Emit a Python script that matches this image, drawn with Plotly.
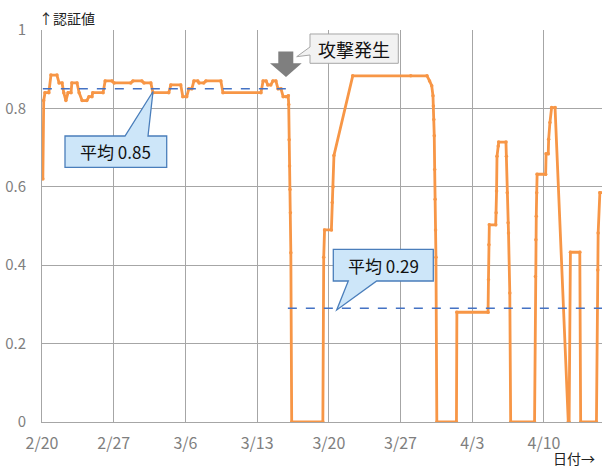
import plotly.graph_objects as go

# 認証値の時系列 (日時, 値)
times = [
    "2019-02-20 02:00", "2019-02-20 04:00", "2019-02-20 07:00", "2019-02-20 16:00",
    "2019-02-20 21:00", "2019-02-21 11:00", "2019-02-21 16:00", "2019-02-21 23:00",
    "2019-02-22 03:00", "2019-02-22 08:00", "2019-02-22 13:00", "2019-02-22 20:00",
    "2019-02-22 22:00", "2019-02-23 10:00", "2019-02-23 15:00", "2019-02-23 22:00",
    "2019-02-24 09:00", "2019-02-24 14:00", "2019-02-24 21:00", "2019-02-24 23:00",
    "2019-02-25 23:00", "2019-02-26 04:00", "2019-02-26 20:00", "2019-02-27 01:00",
    "2019-02-28 16:00", "2019-02-28 21:00", "2019-03-01 18:00", "2019-03-01 23:00",
    "2019-03-02 15:00", "2019-03-02 20:00", "2019-03-04 09:00", "2019-03-04 14:00",
    "2019-03-05 13:00", "2019-03-05 18:00", "2019-03-06 03:00", "2019-03-06 08:00",
    "2019-03-06 15:00", "2019-03-06 20:00", "2019-03-07 05:00", "2019-03-07 08:00",
    "2019-03-07 19:00", "2019-03-08 00:00", "2019-03-09 11:00", "2019-03-09 16:00",
    "2019-03-13 09:00", "2019-03-13 14:00", "2019-03-13 21:00", "2019-03-14 01:00",
    "2019-03-14 08:00", "2019-03-14 13:00", "2019-03-14 20:00", "2019-03-15 01:00",
    "2019-03-15 08:00", "2019-03-15 13:00", "2019-03-15 20:00",
    "2019-03-16 01:00", "2019-03-16 02:00", "2019-03-16 03:00", "2019-03-16 04:00",
    "2019-03-16 05:00", "2019-03-16 06:00", "2019-03-16 07:00", "2019-03-16 09:00",
    "2019-03-19 10:00", "2019-03-19 12:00", "2019-03-19 14:00", "2019-03-20 06:00",
    "2019-03-20 08:00", "2019-03-20 10:00", "2019-03-20 12:00", "2019-03-22 08:00",
    "2019-03-28 00:00", "2019-03-29 14:00", "2019-03-29 20:00", "2019-03-30 01:00",
    "2019-03-30 04:00", "2019-03-30 05:00", "2019-03-30 06:00", "2019-03-30 07:00",
    "2019-03-30 08:00", "2019-03-30 09:00", "2019-03-30 10:00", "2019-03-30 11:00",
    "2019-03-30 13:00", "2019-04-01 11:00", "2019-04-01 12:00", "2019-04-04 13:00",
    "2019-04-04 14:00", "2019-04-04 15:00", "2019-04-04 16:00", "2019-04-05 07:00",
    "2019-04-05 08:00", "2019-04-05 09:00", "2019-04-05 10:00", "2019-04-05 13:00",
    "2019-04-05 14:00", "2019-04-06 07:00", "2019-04-06 08:00", "2019-04-06 10:00",
    "2019-04-06 12:00", "2019-04-06 13:00", "2019-04-06 16:00", "2019-04-06 18:00",
    "2019-04-09 02:00", "2019-04-09 04:00", "2019-04-09 05:00", "2019-04-09 06:00",
    "2019-04-09 07:00", "2019-04-09 08:00", "2019-04-10 04:00", "2019-04-10 05:00",
    "2019-04-10 10:00", "2019-04-10 11:00", "2019-04-10 14:00", "2019-04-10 18:00",
    "2019-04-11 02:00", "2019-04-12 09:00", "2019-04-12 11:00", "2019-04-12 14:00",
    "2019-04-13 12:00", "2019-04-13 14:00", "2019-04-15 03:00", "2019-04-15 06:00",
    "2019-04-15 07:00", "2019-04-15 11:00", "2019-04-16 00:00",
]
values = [
    0.62, 0.82, 0.84, 0.84,
    0.885, 0.885, 0.865, 0.865,
    0.84, 0.82, 0.84, 0.84,
    0.865, 0.865, 0.84, 0.82,
    0.82, 0.83, 0.83, 0.84,
    0.84, 0.87, 0.87, 0.865,
    0.865, 0.87, 0.87, 0.865,
    0.865, 0.84, 0.84, 0.86,
    0.86, 0.83, 0.83, 0.85,
    0.85, 0.87, 0.87, 0.865,
    0.865, 0.87, 0.87, 0.84,
    0.84, 0.87, 0.87, 0.86,
    0.86, 0.87, 0.87, 0.85,
    0.85, 0.83, 0.83,
    0.832, 0.81, 0.72, 0.653,
    0.593, 0.534, 0.432, 0.0,
    0.0, 0.42, 0.49, 0.49,
    0.56, 0.60, 0.68, 0.883,
    0.883, 0.883, 0.87, 0.858,
    0.832, 0.806, 0.772, 0.73,
    0.644, 0.568, 0.49, 0.42,
    0.0, 0.0, 0.28, 0.28,
    0.363, 0.452, 0.503, 0.503,
    0.534, 0.589, 0.678, 0.704,
    0.714, 0.714, 0.678, 0.585,
    0.508, 0.482, 0.329, 0.0,
    0.0, 0.371, 0.465, 0.525,
    0.585, 0.632, 0.632, 0.684,
    0.684, 0.721, 0.764, 0.802,
    0.802, 0.0, 0.0, 0.433,
    0.433, 0.0, 0.0, 0.388,
    0.482, 0.585, 0.585,
]

# 攻撃前後の平均値
avg_before = 0.85
avg_after = 0.29
before_span = ["2019-02-20 02:00", "2019-03-16 00:00"]
after_span = ["2019-03-16 00:00", "2019-04-16 00:00"]

# 目盛り
x_tickvals = ["2019-02-20", "2019-02-27", "2019-03-06", "2019-03-13",
              "2019-03-20", "2019-03-27", "2019-04-03", "2019-04-10"]
x_ticktext = ["2/20", "2/27", "3/6", "3/13", "3/20", "3/27", "4/3", "4/10"]
y_tickvals = [0, 0.2, 0.4, 0.6, 0.8, 1]
y_ticktext = ["0", "0.2", "0.4", "0.6", "0.8", "1"]

W, H = 602, 468
ML, MR, MT, MB = 42, 0, 30, 46
PW, PH = W - ML - MR, H - MT - MB

ORANGE = "#F79646"
BLUE = "#4472C4"
GRID = "#A6A6A6"
FONT = "Noto Sans CJK JP"


def px(x):
    return (x - ML) / PW


def py(y):
    return (H - MB - y) / PH


def path(points):
    return "M " + " L ".join(f"{px(a):.5f},{py(b):.5f}" for a, b in points) + " Z"


def label(text, x, y, size, xanchor="center", color="#111111"):
    return dict(text=text, xref="paper", yref="paper", x=px(x), y=py(y),
                xanchor=xanchor, yanchor="middle", showarrow=False,
                font=dict(family=FONT, size=size, color=color))


fig = go.Figure()

fig.add_trace(go.Scatter(
    x=times, y=values, mode="lines+markers",
    line=dict(color=ORANGE, width=2.8),
    marker=dict(color=ORANGE, size=3.5),
    hoverinfo="skip",
))
fig.add_trace(go.Scatter(
    x=before_span, y=[avg_before, avg_before], mode="lines",
    line=dict(color=BLUE, width=1.5, dash="dash"), hoverinfo="skip",
))
fig.add_trace(go.Scatter(
    x=after_span, y=[avg_after, avg_after], mode="lines",
    line=dict(color=BLUE, width=1.5, dash="dash"), hoverinfo="skip",
))

shapes = [
    # 平均 (攻撃前) の吹き出し
    dict(type="path", xref="paper", yref="paper", layer="above",
         path=path([(65, 136), (125, 136), (153, 91.5), (148, 136),
                    (166.7, 136), (166.7, 167.3), (65, 167.3)]),
         fillcolor="#CDE6F9", line=dict(color="#4A7EBB", width=1.3)),
    # 平均 (攻撃後) の吹き出し
    dict(type="path", xref="paper", yref="paper", layer="above",
         path=path([(333.3, 249.3), (433.3, 249.3), (433.3, 281), (376.7, 281),
                    (336.7, 310), (348.3, 281), (333.3, 281)]),
         fillcolor="#CDE6F9", line=dict(color="#4A7EBB", width=1.3)),
    # 攻撃発生の吹き出し
    dict(type="path", xref="paper", yref="paper", layer="above",
         path=path([(310, 34), (398.3, 34), (398.3, 63.3), (310, 63.3),
                    (310, 55), (296.7, 56.7), (310, 47)]),
         fillcolor="#F2F2F2", line=dict(color="#A6A6A6", width=1)),
    # 下向き矢印
    dict(type="path", xref="paper", yref="paper", layer="above",
         path=path([(278.3, 51.5), (293.3, 51.5), (293.3, 63.3), (301.7, 63.3),
                    (286, 77), (270, 63.3), (278.3, 63.3)]),
         fillcolor="#7F7F7F", line=dict(width=0)),
]

annotations = [
    label(f"平均 {avg_before:.2f}", 115.8, 151.7, 17),
    label(f"平均 {avg_after:.2f}", 383.3, 265.2, 17),
    label("攻撃発生", 354, 48.7, 18),
    label("↑認証値", 37, 18, 14, xanchor="left", color="#222222"),
    label("日付→", 597, 457.5, 14, xanchor="right", color="#222222"),
]

fig.update_layout(
    width=W, height=H,
    margin=dict(l=ML, r=MR, t=MT, b=MB, pad=0),
    paper_bgcolor="white", plot_bgcolor="white",
    showlegend=False,
    shapes=shapes,
    annotations=annotations,
    font=dict(family=FONT),
)
fig.update_xaxes(
    type="date",
    range=["2019-02-20 00:00", "2019-04-15 16:00"],
    tickvals=x_tickvals, ticktext=x_ticktext,
    showgrid=True, gridcolor=GRID, gridwidth=1,
    showline=True, linecolor=GRID, linewidth=1,
    zeroline=False, ticks="", ticklabelstandoff=7,
    tickfont=dict(family=FONT, size=16, color="#7F7F7F"),
)
fig.update_yaxes(
    range=[0, 1],
    tickvals=y_tickvals, ticktext=y_ticktext,
    showgrid=True, gridcolor=GRID, gridwidth=1,
    showline=True, linecolor=GRID, linewidth=1,
    zeroline=False, ticks="", ticklabelstandoff=12,
    tickfont=dict(family=FONT, size=15, color="#7F7F7F"),
)

fig.write_html("out.html")
